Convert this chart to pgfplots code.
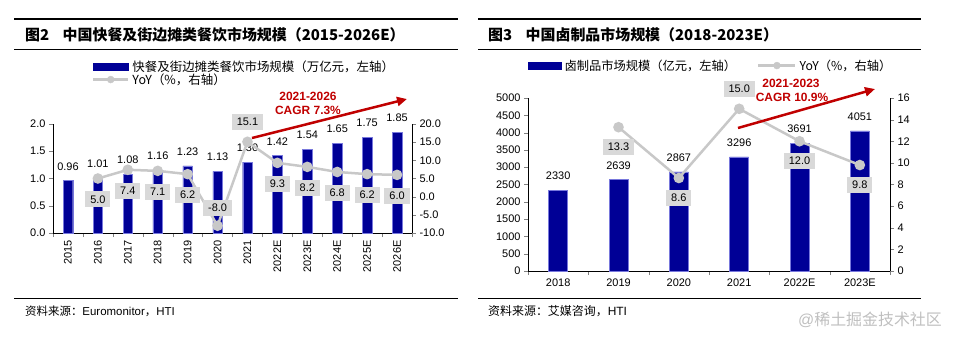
\documentclass[border=0pt]{standalone}
\usepackage{pgfplots}
\pgfplotsset{compat=1.18}
\usepackage{fontspec}
\setmainfont{Liberation Sans}
\newfontfamily\cjk{Noto Sans CJK SC}
\usetikzlibrary{arrows.meta}
\definecolor{barblue}{RGB}{0,0,150}
\definecolor{baredge}{RGB}{120,120,220}
\definecolor{lgray}{RGB}{200,200,200}
\definecolor{boxgray}{RGB}{217,217,217}
\definecolor{cred}{RGB}{192,0,0}
\pgfplotsset{/pgf/number format/assume math mode=true}
\newcommand{\tf}{\fontsize{11}{12}\selectfont}
\begin{document}
\begin{tikzpicture}[x=1bp,y=1bp]
\useasboundingbox (0,0) rectangle (964,342);
% rules
\draw[line width=1.2bp] (14,323) -- (458,323);
\draw[line width=1bp] (14,293) -- (458,293);
\draw[line width=1bp] (14,44) -- (458,44);
\draw[line width=1.2bp] (478,323) -- (921,323);
\draw[line width=1bp] (478,293) -- (921,293);
\draw[line width=1bp] (478,44) -- (921,44);
% titles
\node[anchor=west,inner sep=0] at (25,307) {\fontsize{15}{16}\selectfont\bfseries\cjk 图2\hspace{0.9em}中国快餐及街边摊类餐饮市场规模（2015-2026E）};
\node[anchor=west,inner sep=0] at (488,307) {\fontsize{15}{16}\selectfont\bfseries\cjk 图3\hspace{0.9em}中国卤制品市场规模（2018-2023E）};
% sources
\node[anchor=west,inner sep=0] at (25,31) {\fontsize{11.5}{13}\selectfont{\cjk 资料来源：}Euromonitor{\cjk ，}HTI};
\node[anchor=west,inner sep=0] at (488,31) {\fontsize{12}{13}\selectfont{\cjk 资料来源：艾媒咨询，}HTI};
\node[anchor=center,inner sep=0,text=black!25] at (870,22) {\fontsize{16}{18}\selectfont @{\cjk 稀土掘金技术社区}};

% ---------------- left panel ----------------
\begin{axis}[
  at={(53bp,109bp)}, anchor=south west, scale only axis,
  width=359bp, height=109bp,
  xmin=-0.5, xmax=11.5, ymin=0, ymax=2,
  axis x line*=bottom, axis y line*=left,
  ytick={0,0.5,1,1.5,2},
  yticklabel style={/pgf/number format/.cd, fixed, fixed zerofill, precision=1},
  xtick={0,...,11},
  xticklabels={2015,2016,2017,2018,2019,2020,2021,2022E,2023E,2024E,2025E,2026E},
  xticklabel style={rotate=90, anchor=east},
  major x tick style={draw=none},
  minor xtick={-0.5,0.5,...,11.5},
  minor tick length=4bp, major tick length=4bp,
  tick align=outside,
  tick label style={font=\tf},
  legend style={draw=none, fill=none, font=\fontsize{12.5}{13}\selectfont\cjk, legend cell align=left, inner sep=0pt, row sep=0pt,
    nodes={inner ysep=0.3bp, inner xsep=3bp},
    at={(0.108,1.585)}, anchor=north west},
]
\addplot[ybar, bar width=9.5bp, fill=barblue, draw=baredge, forget plot,
  nodes near coords={\pgfmathprintnumber[fixed,fixed zerofill,precision=2]{\pgfplotspointmeta}},
  every node near coord/.append style={font=\tf, text=black, yshift=7bp}]
  coordinates {(0,0.96) (1,1.01) (2,1.08) (3,1.16) (4,1.23) (5,1.13) (6,1.30) (7,1.42) (8,1.54) (9,1.65) (10,1.75) (11,1.85)};
\addlegendimage{legend image code/.code={\fill[barblue] (0bp,-3.5bp) rectangle (35bp,3.5bp);}}
\addlegendentry{快餐及街边摊类餐饮市场规模（万亿元，左轴）}
\addlegendimage{legend image code/.code={\draw[lgray,line width=2.5bp] (0bp,0) -- (35bp,0); \fill[lgray] (17.5bp,0) circle (3.5bp);}}
\addlegendentry{YoY（\%，右轴）}
\end{axis}
\begin{axis}[
  at={(53bp,109bp)}, anchor=south west, scale only axis,
  width=359bp, height=109bp,
  xmin=-0.5, xmax=11.5, ymin=-10, ymax=20,
  axis x line=none, axis y line*=right,
  ytick={-10,-5,...,20},
  yticklabel style={/pgf/number format/.cd, fixed, fixed zerofill, precision=1},
  tick align=outside, major tick length=4bp,
  tick label style={font=\tf},
]
\addplot[color=lgray, line width=2.5bp, mark=*, mark size=4bp, mark options={fill=lgray, draw=lgray},
  visualization depends on={\thisrow{off} \as \off},
  nodes near coords={\pgfmathprintnumber[fixed,fixed zerofill,precision=1]{\pgfplotspointmeta}},
  every node near coord/.append style={font=\tf, text=black, fill=boxgray, anchor=center, yshift=\off, inner xsep=5bp, inner ysep=3bp, minimum height=16bp}]
  table {
x y off
1 5.0 -21
2 7.4 -21
3 7.1 -21
4 6.2 -21
5 -8.0 18
6 15.1 20
7 9.3 -21
8 8.2 -21
9 6.8 -21
10 6.2 -21
11 6.0 -21
};
\end{axis}
\draw[cred, line width=2.5bp, -{Triangle[length=10bp,width=9bp]}] (252,204) -- (407,243);
\node[text=cred, font=\fontsize{12}{13}\selectfont\bfseries, inner sep=0] at (308,246) {2021-2026};
\node[text=cred, font=\fontsize{12}{13}\selectfont\bfseries, inner sep=0] at (308,232) {CAGR 7.3\%};

% ---------------- right panel ----------------
\begin{axis}[
  at={(528bp,71bp)}, anchor=south west, scale only axis,
  width=362bp, height=173bp,
  xmin=-0.5, xmax=5.5, ymin=0, ymax=5000,
  axis x line*=bottom, axis y line*=left,
  ytick={0,500,...,5000},
  yticklabel style={/pgf/number format/.cd, fixed, 1000 sep={}},
  xtick={0,...,5},
  xticklabels={2018,2019,2020,2021,2022E,2023E},
  major x tick style={draw=none},
  minor xtick={-0.5,0.5,...,5.5},
  minor tick length=4bp, major tick length=4bp,
  tick align=outside,
  tick label style={font=\tf},
  legend style={draw=none, fill=none, font=\fontsize{12.3}{13}\selectfont\cjk, legend columns=2, inner sep=0pt,
    nodes={inner ysep=0.3bp, inner xsep=3bp},
    /tikz/every even column/.append style={column sep=18bp},
    at={(0.0,1.225)}, anchor=north west},
]
\addplot[ybar, bar width=19bp, fill=barblue, draw=baredge, forget plot,
  nodes near coords={\pgfmathprintnumber[fixed,1000 sep={}]{\pgfplotspointmeta}},
  every node near coord/.append style={font=\tf, text=black, yshift=7bp}]
  coordinates {(0,2330) (1,2639) (2,2867) (3,3296) (4,3691) (5,4051)};
\addlegendimage{legend image code/.code={\fill[barblue] (0bp,-3.5bp) rectangle (33bp,3.5bp);}}
\addlegendentry{卤制品市场规模（亿元，左轴）}
\addlegendimage{legend image code/.code={\draw[lgray,line width=2.5bp] (0bp,0) -- (37bp,0); \fill[lgray] (18.5bp,0) circle (3.5bp);}}
\addlegendentry{YoY（\%，右轴）}
\end{axis}
\begin{axis}[
  at={(528bp,71bp)}, anchor=south west, scale only axis,
  width=362bp, height=173bp,
  xmin=-0.5, xmax=5.5, ymin=0, ymax=16,
  axis x line=none, axis y line*=right,
  ytick={0,2,...,16},
  tick align=outside, major tick length=4bp,
  tick label style={font=\tf},
]
\addplot[color=lgray, line width=2.5bp, mark=*, mark size=4bp, mark options={fill=lgray, draw=lgray},
  visualization depends on={\thisrow{off} \as \off},
  nodes near coords={\pgfmathprintnumber[fixed,fixed zerofill,precision=1]{\pgfplotspointmeta}},
  every node near coord/.append style={font=\tf, text=black, fill=boxgray, anchor=center, yshift=\off, inner xsep=5bp, inner ysep=3bp, minimum height=16bp}]
  table {
x y off
1 13.3 -20
2 8.6 -20
3 15.0 20
4 12.0 -20
5 9.8 -20
};
\end{axis}
\draw[cred, line width=2.5bp, -{Triangle[length=10bp,width=9bp]}] (738,214) -- (875,253);
\node[text=cred, font=\fontsize{12}{13}\selectfont\bfseries, inner sep=0] at (791,259) {2021-2023};
\node[text=cred, font=\fontsize{12}{13}\selectfont\bfseries, inner sep=0] at (792,245) {CAGR 10.9\%};
\end{tikzpicture}
\end{document}
